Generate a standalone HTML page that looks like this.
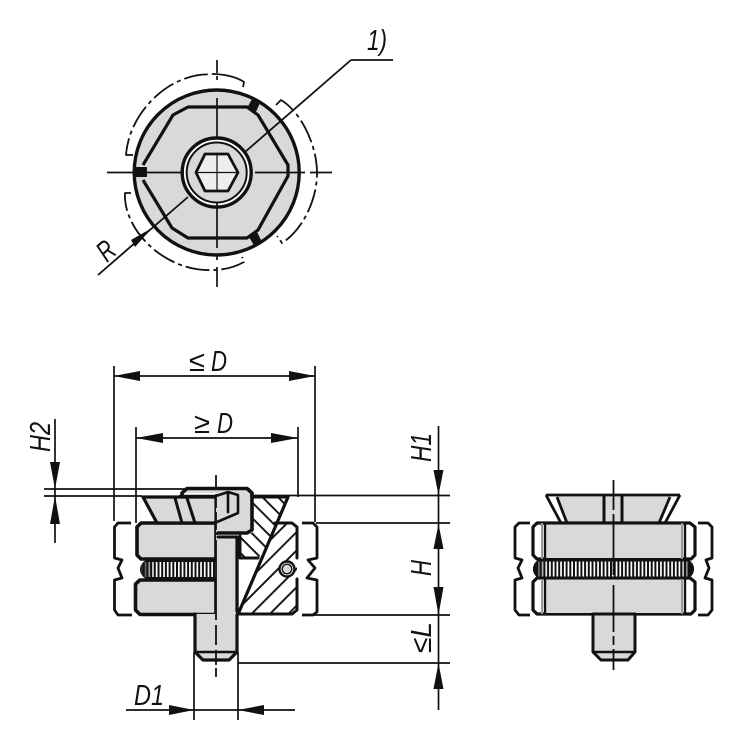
<!DOCTYPE html>
<html><head><meta charset="utf-8"><style>
html,body{margin:0;padding:0;background:#fff;width:750px;height:745px;overflow:hidden}
svg{display:block}
text{font-family:"Liberation Sans",Arial,sans-serif;font-style:italic;font-size:29px;fill:#111}
</style></head><body>
<svg width="750" height="745" viewBox="0 0 750 745" xmlns="http://www.w3.org/2000/svg">
<defs>
<pattern id="h1" width="11" height="11" patternUnits="userSpaceOnUse" patternTransform="rotate(45)"><rect width="11" height="1.900" fill="#111"/></pattern>
<pattern id="h2" width="13" height="13" patternUnits="userSpaceOnUse" patternTransform="rotate(-45)"><rect width="13" height="1.900" fill="#111"/></pattern>
<linearGradient id="e" x1="0" x2="1" y1="0" y2="0"><stop offset="0" stop-color="#111"/><stop offset=".09" stop-color="#111" stop-opacity="0"/><stop offset=".91" stop-color="#111" stop-opacity="0"/><stop offset="1" stop-color="#111"/></linearGradient>
<linearGradient id="e2" x1="0" x2="1" y1="0" y2="0"><stop offset="0" stop-color="#111"/><stop offset=".2" stop-color="#111" stop-opacity="0"/></linearGradient>
</defs>

<!-- TOP VIEW -->
<g fill="none" stroke="#111" stroke-linejoin="round">
<circle cx="216.700" cy="172.500" r="82.500" fill="#d9d9d9" stroke-width="3.400"/>
<path d="M143 165L173 115L188 107H247L258 115L288 165V176L258 230L247 238H188L172 228L143 180" stroke-width="3.200"/>
<circle cx="216.700" cy="172.500" r="34.500" fill="#fff" stroke-width="3.400"/>
<circle cx="216.700" cy="172.500" r="30" fill="#d9d9d9" stroke-width="2"/>
<path d="M196 172.500L205 154H228L238 172.500L228 191H205Z" fill="#eee" stroke-width="2.800"/>
<g stroke-width="1.700">
<path d="M107 172.500H135M147 172.500H181M255 172.500H287M289 172.500H305M310 172.500H332"/>
<path d="M217 60V73M217 76V80M217 98V138M217 203V248M217 255V260M217 267V287"/>
<path d="M196 172.500H238M217 154V191" stroke-width="1.200"/>
<path d="M351 60H393M351 60L245 152M188 197L98 275" stroke-width="1.800"/>
</g>
<g stroke-width="1.800" stroke-dasharray="24 4 4 4">
<path d="M133 155H126C129 112 170 72 212 74.500"/>
<path d="M212 74C222 74 235 76 244 82L243 87" stroke-dasharray="none"/>
<path d="M276 105L281 100C301 112 317 145 317 173C317 203 300 232 282 243L277 236"/>
<path d="M131 193H125C123 230 165 272 212 270C225 270 235 267 244 262L242 257"/>
</g>
</g>
<path d="M252 99L260 103L255 114L247 108ZM135 167H147V177H135ZM249 237L257 232L262 242L255 247Z" fill="#111"/>
<path d="M152 228L131 240L135 247Z" fill="#111"/>
<text x="367" y="50" textLength="20" lengthAdjust="spacingAndGlyphs">1)</text>
<text transform="translate(107,263) rotate(-42)" textLength="15" lengthAdjust="spacingAndGlyphs">R</text>

<!-- SIDE VIEW -->
<g stroke="#111" fill="none" stroke-linejoin="round" stroke-linecap="round">
<path d="M253 497H288L267 546L258 559H240V533H252Z" fill="url(#h1)" stroke="none"/>
<path d="M275 523H297V614H240V610Z" fill="url(#h2)" stroke="none"/>
<path d="M288 497L239 612" stroke-width="3.200"/>
<path d="M253 497H288M275 523H292L297 527V558M297 579V610L292 614H238M240 558H258M240 536V558" stroke-width="3"/>
<circle cx="287" cy="569" r="7.500" fill="#fff" stroke-width="2.400"/>
<circle cx="287" cy="569" r="4.800" fill="#d9d9d9" stroke-width="1.400"/>
<path d="M216 523H141L137 527V555L141 559H216Z" fill="#d9d9d9" stroke-width="3.600"/>
<path d="M216 580H140L135.500 584V610L140 614.500H216Z" fill="#d9d9d9" stroke-width="3.600"/>
<path d="M195 614V652L203 660H229L237 652V535H216V614Z" fill="#d9d9d9" stroke="none"/>
<path d="M195 614V652L203 660H229L237 652V537" stroke-width="3.200"/>
<path d="M195 652H237" stroke-width="2.400"/>
<path d="M143 497H216V523H157Z" fill="#d9d9d9" stroke-width="3.200"/>
<path d="M175 498L182 523M187 498L195 523" stroke-width="3"/>
<path d="M182 493L187 488H247L252 493V530L247 533H216V493Z" fill="#d9d9d9" stroke="none"/>
<path d="M182 496V493L187 488.500H247L252 493V530L247 533H218" stroke-width="3.600"/>
<path d="M180 496H216L228 492L238 495V513L217 522M228 493V512" stroke-width="2.600"/>
<path d="M218 537H237" stroke-width="3"/>
</g>
<!-- spring -->
<path d="M216 560H147A10 10 0 0 0 147 579H216Z" fill="#111"/>
<path d="M141 569.500H216" stroke="#fff" stroke-width="15" stroke-dasharray="1.700 2"/>
<path d="M216 560H147A10 10 0 0 0 147 579H216Z" fill="url(#e2)"/>
<rect x="216" y="539" width="20" height="75" fill="#d9d9d9"/>
<path d="M237 537V612" stroke="#111" stroke-width="3.200"/>
<g stroke="#111" fill="none" stroke-linejoin="round">
<path d="M131 523H118L114.500 527V558L122 560L118 568L122 578L114.500 580V610L118 615H132" stroke-width="2.800"/>
<path d="M302 523H313L317 527V558L308 560L315 568L307 578L317 580V612L313 615H302" stroke-width="2.800"/>
<path d="M216 475V488M216 494V508M216 512V530M216 540V620M216 625V645M216 650V665M216 668V677" stroke-width="1.800"/>
<g stroke-width="1.700">
<path d="M114 366V521M136 427V523M315 366V522M298 427V497"/>
<path d="M114 376H315M136 438H298"/>
<path d="M44 489H250M44 496H142M250 495.500H450M316 523H450M305 615H450M238 663H450"/>
<path d="M55 419V543M438.500 426V710"/>
<path d="M194 652V720M238 652V720M126 710H295"/>
</g>
</g>
<g fill="#111">
<path d="M114 376L140 371V381ZM315 376L289 371V381ZM136 438L163 433V443ZM298 438L271 433V443Z"/>
<path d="M55 489L50 462H60ZM55 496L50 524H60Z"/>
<path d="M438.500 495L433.500 470H443.500ZM438.500 524L433.500 549H443.500ZM438.500 615L433.500 587H443.500ZM438.500 663L433.500 689H443.500Z"/>
<path d="M194 710L169 705V715ZM238 710L264 705V715Z"/>
</g>
<text x="189" y="371" textLength="16" lengthAdjust="spacingAndGlyphs" style="font-style:normal">≤</text>
<text x="211" y="371" textLength="16" lengthAdjust="spacingAndGlyphs">D</text>
<text x="194" y="433" textLength="16" lengthAdjust="spacingAndGlyphs" style="font-style:normal">≥</text>
<text x="217" y="433" textLength="16" lengthAdjust="spacingAndGlyphs">D</text>
<text x="134" y="705" textLength="30" lengthAdjust="spacingAndGlyphs">D1</text>
<text transform="translate(50,452) rotate(-90)" textLength="30" lengthAdjust="spacingAndGlyphs">H2</text>
<text transform="translate(431,462) rotate(-90)" textLength="29" lengthAdjust="spacingAndGlyphs">H1</text>
<text transform="translate(431,576) rotate(-90)" textLength="16" lengthAdjust="spacingAndGlyphs">H</text>
<text transform="translate(431,653) rotate(-90)" textLength="31" lengthAdjust="spacingAndGlyphs">≤L</text>

<!-- RIGHT VIEW -->
<g stroke="#111" fill="none" stroke-linejoin="round">
<path d="M546 495H680L665 523H562Z" fill="#d9d9d9" stroke="none"/>
<path d="M548 496L561 522H568L557 496ZM678 496L666 522H659L669 496Z" fill="#fff" stroke="none"/>
<path d="M546 495H680M546 495L561 523M680 495L665 523M557 497L567 523M670 497L659 523" stroke-width="2.800"/>
<path d="M604 495V523M622 495V523" stroke-width="3"/>
<path d="M533 527L537 523H690L695 527V555L691 559H537L533 555Z" fill="#fff" stroke-width="3.200"/>
<path d="M533 582L537 578H690L695 582V610L691 614H537L533 610Z" fill="#fff" stroke-width="3.200"/>
<rect x="546" y="525" width="136" height="33" fill="#d9d9d9" stroke="none"/>
<rect x="546" y="580" width="136" height="33" fill="#d9d9d9" stroke="none"/>
<path d="M542 523V559M682 523V559M542 578V614M682 578V614" stroke="#999" stroke-width="2"/>
<path d="M545 523V559M685 523V559M545 578V614M685 578V614" stroke-width="2.400"/>
<path d="M593 614V652L601 660H628L635 652V614Z" fill="#d9d9d9" stroke-width="3"/>
<path d="M593 652H635" stroke-width="2.600"/>
<path d="M530 523H519L515 527V558L522 560L518 568L522 578L515 580V610L519 615H530" stroke-width="2.800"/>
<path d="M698 523H708L712 527V558L706 560L709 568L705 578L712 580V610L708 615H698" stroke-width="2.800"/>
</g>
<rect x="533" y="559" width="161" height="20" rx="10" fill="#111"/>
<path d="M538 569H689" stroke="#fff" stroke-width="15" stroke-dasharray="1.700 2"/>
<rect x="533" y="559" width="161" height="20" rx="10" fill="url(#e)"/>
<path d="M613.500 480V510M613.500 514V575M613.500 585V632M613.500 636V645M613.500 649V670" stroke="#111" stroke-width="1.800" fill="none"/>
</svg>
</body></html>
